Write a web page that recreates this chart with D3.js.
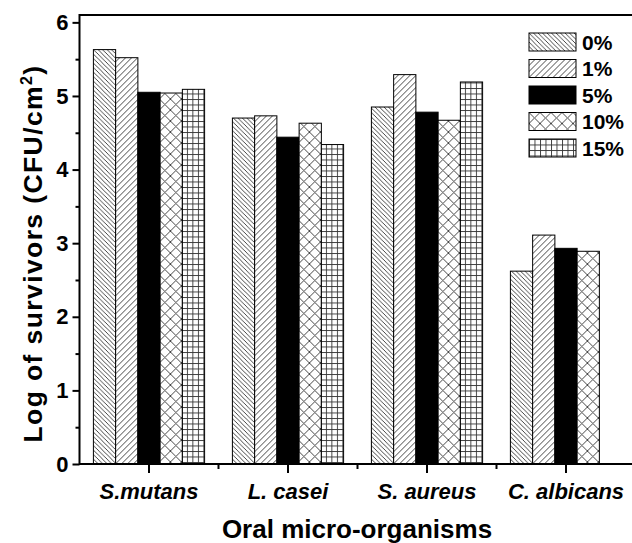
<!DOCTYPE html>
<html>
<head>
<meta charset="utf-8">
<script src="https://cdn.jsdelivr.net/npm/d3@7/dist/d3.min.js"></script>
<style>
  html, body { margin: 0; padding: 0; background: #fff; }
  svg { display: block; font-family: Arial, "Liberation Sans", sans-serif; }
</style>
</head>
<body>
<svg id="chart" width="632" height="543"></svg>
<script>
// Survival counts of oral micro-organisms at each concentration
const organisms = ["S.mutans", "L. casei", "S. aureus", "C. albicans"];
const concentrations = ["0%", "1%", "5%", "10%", "15%"];
const conc0 = [5.63, 4.70, 4.85, 2.62];
const conc1 = [5.52, 4.73, 5.29, 3.11];
const conc5 = [5.05, 4.44, 4.78, 2.93];
const conc10 = [5.04, 4.63, 4.67, 2.89];
const conc15 = [5.09, 4.34, 5.19, null];
const yTicks = [0, 1, 2, 3, 4, 5, 6];

const seriesValues = [conc0, conc1, conc5, conc10, conc15];

const svg = d3.select("#chart");
const margin = { left: 79.5, right: -3.5, top: 15, bottom: 79 };
const W = 632, H = 543;

const x = d3.scaleBand()
  .domain(organisms)
  .range([margin.left, W - margin.right])
  .paddingInner(0.2)
  .paddingOuter(0.1);

const xInner = d3.scaleBand()
  .domain(concentrations)
  .range([0, x.bandwidth()]);

const y = d3.scaleLinear()
  .domain([0, 6.1])
  .range([H - margin.bottom, margin.top]);

// Fill patterns for each concentration
const defs = svg.append("defs");
function hatch(id, size, draw) {
  const p = defs.append("pattern")
    .attr("id", id)
    .attr("patternUnits", "userSpaceOnUse")
    .attr("width", size).attr("height", size);
  p.append("rect").attr("width", size).attr("height", size).attr("fill", "#fff");
  draw(p, size);
}
const lineCol = "#333";
hatch("p0", 4.5, (p, s) => {
  p.append("path").attr("d", `M0,0 L${s},${s} M${-s},0 L${s},${2*s} M0,${-s} L${2*s},${s}`)
    .attr("stroke", lineCol).attr("stroke-width", 0.9);
});
hatch("p1", 6, (p, s) => {
  p.append("path").attr("d", `M0,${s} L${s},0 M${-s},${s} L${s},${-s} M0,${2*s} L${2*s},0`)
    .attr("stroke", lineCol).attr("stroke-width", 0.9);
});
hatch("p10", 11, (p, s) => {
  p.append("path").attr("d", `M0,0 L${s},${s} M0,${s} L${s},0`)
    .attr("stroke", lineCol).attr("stroke-width", 0.9);
});
hatch("p15", 5.5, (p, s) => {
  p.append("path").attr("d", `M0,0.5 L${s},0.5 M0.5,0 L0.5,${s}`)
    .attr("stroke", lineCol).attr("stroke-width", 0.9);
});
const fills = ["url(#p0)", "url(#p1)", "#000", "url(#p10)", "url(#p15)"];

// Bars
const groups = svg.append("g").selectAll("g")
  .data(organisms)
  .join("g")
  .attr("transform", d => `translate(${x(d)},0)`);

groups.selectAll("rect")
  .data((d, i) => concentrations.map((c, j) => ({ c, j, v: seriesValues[j][i] })).filter(e => e.v != null))
  .join("rect")
  .attr("x", e => xInner(e.c))
  .attr("width", xInner.bandwidth())
  .attr("y", e => y(e.v))
  .attr("height", e => y(0) - y(e.v))
  .attr("fill", e => fills[e.j])
  .attr("stroke", "#000")
  .attr("stroke-width", 1);

// Axes
const axisW = 2;
const yAxis = svg.append("g")
  .attr("transform", `translate(${margin.left},0)`)
  .call(d3.axisLeft(y).tickValues(yTicks).tickSize(7).tickPadding(4).tickFormat(d3.format("d")));
yAxis.select(".domain").remove();
yAxis.selectAll(".tick line").attr("stroke-width", axisW);
yAxis.selectAll("text").attr("font-size", 22).attr("font-weight", "bold").attr("fill", "#000");

const yMinor = svg.append("g")
  .attr("transform", `translate(${margin.left},0)`)
  .call(d3.axisLeft(y).tickValues(d3.range(0.5, 6, 1)).tickSize(4).tickFormat(""));
yMinor.select(".domain").remove();
yMinor.selectAll(".tick line").attr("stroke-width", axisW);

const xAxis = svg.append("g")
  .attr("transform", `translate(0,${y(0)})`)
  .call(d3.axisBottom(x).tickSize(9).tickPadding(10));
xAxis.select(".domain").remove();
xAxis.selectAll(".tick line").attr("stroke-width", axisW);
xAxis.selectAll("text")
  .attr("font-size", 22).attr("font-weight", "bold").attr("font-style", "italic").attr("fill", "#000");

// Minor ticks between categories
const step = x.step();
svg.append("g").selectAll("line")
  .data(organisms.slice(1))
  .join("line")
  .attr("x1", d => x(d) - step * x.paddingInner() / 2)
  .attr("x2", d => x(d) - step * x.paddingInner() / 2)
  .attr("y1", y(0)).attr("y2", y(0) + 5)
  .attr("stroke", "#000").attr("stroke-width", axisW);

// Frame
svg.append("rect")
  .attr("x", margin.left).attr("y", y.range()[1])
  .attr("width", x.range()[1] - margin.left)
  .attr("height", y(0) - y.range()[1])
  .attr("fill", "none").attr("stroke", "#000").attr("stroke-width", axisW);

// Axis titles
svg.append("text")
  .attr("transform", `translate(42,${(y(0) + y.range()[1]) / 2 + 14}) rotate(-90)`)
  .attr("text-anchor", "middle")
  .attr("font-size", 26.5).attr("font-weight", "bold")
  .attr("letter-spacing", 1.4)
  .html('Log of survivors (CFU/cm<tspan dy="-10" font-size="16">2</tspan><tspan dy="10">)</tspan>');

svg.append("text")
  .attr("x", 357).attr("y", 538)
  .attr("text-anchor", "middle")
  .attr("font-size", 26).attr("font-weight", "bold")
  .text("Oral micro-organisms");

// Legend
const legend = svg.append("g").attr("transform", "translate(529,33)");
const rowH = 26.5;
const item = legend.selectAll("g")
  .data(concentrations)
  .join("g")
  .attr("transform", (d, i) => `translate(0,${i * rowH})`);
item.append("rect")
  .attr("width", 47).attr("height", 18)
  .attr("fill", (d, i) => fills[i])
  .attr("stroke", "#000").attr("stroke-width", 1);
item.append("text")
  .attr("x", 53).attr("y", 9)
  .attr("dy", "0.36em")
  .attr("font-size", 21).attr("font-weight", "bold")
  .text(d => d);
</script>
</body>
</html>
